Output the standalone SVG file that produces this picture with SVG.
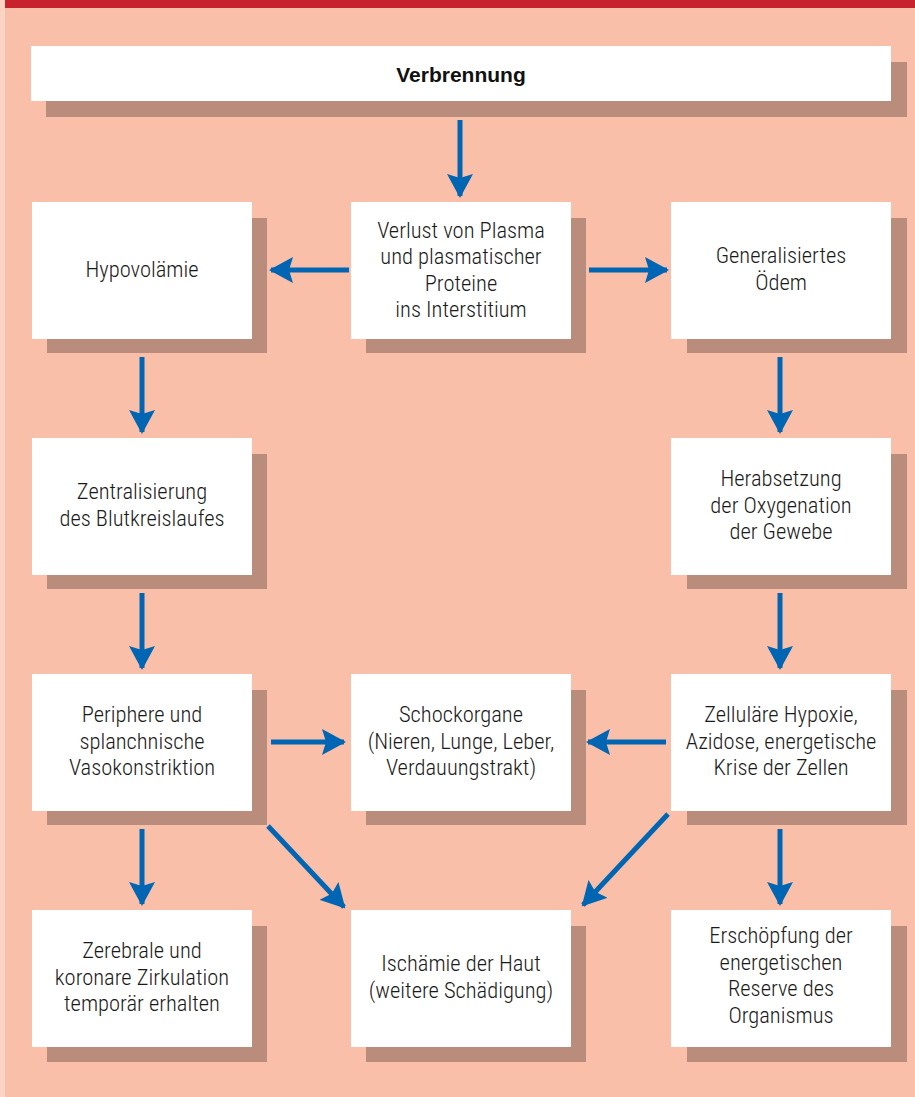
<svg xmlns="http://www.w3.org/2000/svg" width="915" height="1097" viewBox="0 0 915 1097">
<style>
.sh{fill:#BA8C7C}
.bx{fill:#FFFFFF}
.t{font-family:"Liberation Sans Narrow","Roboto Condensed","Liberation Sans",Arial,sans-serif;font-size:22.5px;font-weight:300;fill:#1a1a1a;text-anchor:middle}
.b{font-family:"Liberation Sans",Arial,sans-serif;font-size:21px;font-weight:bold;fill:#111;text-anchor:middle}
.ar{stroke:#0066B3;stroke-width:5;fill:none;marker-end:url(#ah)}
</style>
<defs>
<marker id="ah" markerUnits="userSpaceOnUse" markerWidth="24" markerHeight="26" viewBox="0 0 24 26" refX="22" refY="13" orient="auto">
<path d="M0,0 L24,13 L0,26 L4,13 Z" fill="#0066B3"/>
</marker>
</defs>
<rect x="0" y="0" width="915" height="1097" fill="#FBD3C3"/>
<rect x="5" y="0" width="910" height="1097" fill="#F9BFA8"/>
<rect x="5" y="0" width="910" height="8" fill="#C8232C"/>

<g id="n-verbrennung">
<rect class="sh" x="46" y="62" width="861" height="55"/>
<rect class="bx" x="31" y="46" width="860" height="55"/>
<text class="b" x="461" y="82">Verbrennung</text>
</g>

<g id="n-verlust">
<rect class="sh" x="366" y="218" width="220" height="135"/>
<rect class="bx" x="351" y="202" width="220" height="137"/>
<text class="t" x="461" y="238">Verlust von Plasma</text>
<text class="t" x="461" y="264">und plasmatischer</text>
<text class="t" x="461" y="291">Proteine</text>
<text class="t" x="461" y="317">ins Interstitium</text>
</g>

<g id="n-hypovolaemie">
<rect class="sh" x="47" y="218" width="220" height="135"/>
<rect class="bx" x="32" y="202" width="220" height="137"/>
<text class="t" x="142" y="277">Hypovolämie</text>
</g>

<g id="n-oedem">
<rect class="sh" x="687" y="218" width="220" height="135"/>
<rect class="bx" x="671" y="202" width="220" height="137"/>
<text class="t" x="781" y="263">Generalisiertes</text>
<text class="t" x="781" y="290">Ödem</text>
</g>

<g id="n-zentralisierung">
<rect class="sh" x="47" y="454" width="220" height="135"/>
<rect class="bx" x="32" y="438" width="220" height="137"/>
<text class="t" x="142" y="499">Zentralisierung</text>
<text class="t" x="142" y="526">des Blutkreislaufes</text>
</g>

<g id="n-herabsetzung">
<rect class="sh" x="687" y="454" width="220" height="135"/>
<rect class="bx" x="671" y="438" width="220" height="137"/>
<text class="t" x="781" y="486">Herabsetzung</text>
<text class="t" x="781" y="512.5">der Oxygenation</text>
<text class="t" x="781" y="539">der Gewebe</text>
</g>

<g id="n-periphere">
<rect class="sh" x="47" y="690" width="220" height="135"/>
<rect class="bx" x="32" y="674" width="220" height="137"/>
<text class="t" x="142" y="722">Periphere und</text>
<text class="t" x="142" y="748.5">splanchnische</text>
<text class="t" x="142" y="775">Vasokonstriktion</text>
</g>

<g id="n-schockorgane">
<rect class="sh" x="366" y="690" width="220" height="135"/>
<rect class="bx" x="351" y="674" width="220" height="137"/>
<text class="t" x="461" y="722">Schockorgane</text>
<text class="t" x="461" y="748.5">(Nieren, Lunge, Leber,</text>
<text class="t" x="461" y="775">Verdauungstrakt)</text>
</g>

<g id="n-hypoxie">
<rect class="sh" x="687" y="690" width="220" height="135"/>
<rect class="bx" x="671" y="674" width="220" height="137"/>
<text class="t" x="781" y="722">Zelluläre Hypoxie,</text>
<text class="t" x="781" y="748.5">Azidose, energetische</text>
<text class="t" x="781" y="775">Krise der Zellen</text>
</g>

<g id="n-zerebrale">
<rect class="sh" x="47" y="926" width="220" height="136"/>
<rect class="bx" x="32" y="910" width="220" height="137"/>
<text class="t" x="142" y="958">Zerebrale und</text>
<text class="t" x="142" y="984.5">koronare Zirkulation</text>
<text class="t" x="142" y="1011">temporär erhalten</text>
</g>

<g id="n-ischaemie">
<rect class="sh" x="366" y="926" width="220" height="136"/>
<rect class="bx" x="351" y="910" width="220" height="137"/>
<text class="t" x="461" y="971">Ischämie der Haut</text>
<text class="t" x="461" y="998">(weitere Schädigung)</text>
</g>

<g id="n-erschoepfung">
<rect class="sh" x="687" y="926" width="220" height="136"/>
<rect class="bx" x="671" y="910" width="220" height="137"/>
<text class="t" x="781" y="943">Erschöpfung der</text>
<text class="t" x="781" y="970">energetischen</text>
<text class="t" x="781" y="996">Reserve des</text>
<text class="t" x="781" y="1023">Organismus</text>
</g>

<g id="connectors">
<line class="ar" x1="460" y1="120" x2="460" y2="196"/>
<line class="ar" x1="349" y1="270" x2="271" y2="270"/>
<line class="ar" x1="589" y1="270" x2="667" y2="270"/>
<line class="ar" x1="142" y1="357" x2="142" y2="432"/>
<line class="ar" x1="780" y1="357" x2="780" y2="432"/>
<line class="ar" x1="142" y1="593" x2="142" y2="668"/>
<line class="ar" x1="780" y1="593" x2="780" y2="668"/>
<line class="ar" x1="271" y1="742" x2="344" y2="742"/>
<line class="ar" x1="666" y1="742" x2="588" y2="742"/>
<line class="ar" x1="142" y1="829" x2="142" y2="904"/>
<line class="ar" x1="780" y1="829" x2="780" y2="904"/>
<line class="ar" x1="268" y1="826" x2="344" y2="907"/>
<line class="ar" x1="668" y1="814" x2="583" y2="905"/>
</g>
</svg>
